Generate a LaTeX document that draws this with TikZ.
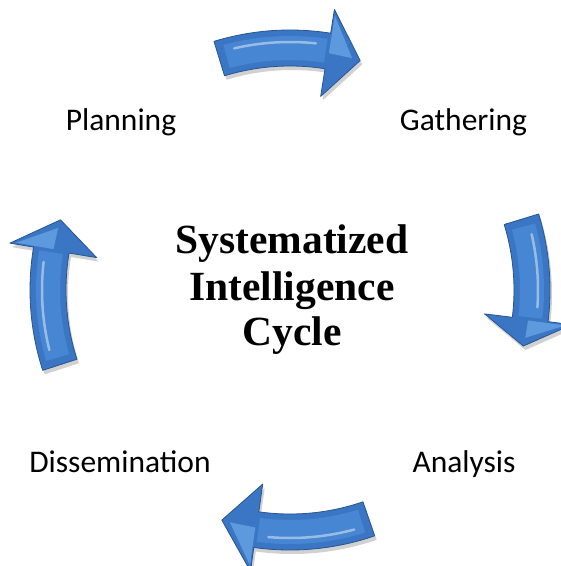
\documentclass[tikz,border=0pt]{standalone}
\usepackage{fontspec}
\setmainfont{Liberation Serif}
\newfontfamily\labelfont{Carlito}
\definecolor{arrowbody}{HTML}{3A76C4}
\definecolor{arrowedge}{HTML}{29558F}
\definecolor{arrowinset}{HTML}{4686D2}
\definecolor{arrowfacet}{HTML}{5C99DD}
\tikzset{
  lbl/.style={font=\labelfont\fontsize{31.5}{36}\selectfont, anchor=base, inner sep=0pt},
  ttl/.style={font=\fontsize{41.5}{46}\selectfont\bfseries, anchor=base, inner sep=0pt},
  shadowfill/.style={fill=black, opacity=0.18},
  bodyfill/.style={fill=arrowbody, draw=arrowedge, line width=0.8pt, line join=round},
  insetfill/.style={fill=arrowinset},
  facetfill/.style={fill=arrowfacet},
  gloss/.style={draw=white, opacity=0.45, line width=2.5pt, line cap=round}
}
\newcommand\cycarrow[3]{%
  \fill[shadowfill, shift={(2,-4)}] (#1:260) arc[start angle=#1, end angle=#2, radius=260]
     -- (#2:284) -- (#3:240) -- (#2:196) -- (#2:224)
     arc[start angle=#2, end angle=#1, radius=224] -- cycle;
  \path[bodyfill] (#1:260) arc[start angle=#1, end angle=#2, radius=260]
     -- (#2:284) -- (#3:240) -- (#2:196) -- (#2:224)
     arc[start angle=#2, end angle=#1, radius=224] -- cycle;
  \fill[insetfill] ({#1-1.8}:254) arc[start angle={#1-1.8}, end angle={#2+0.5}, radius=254]
     -- ({#2+0.5}:230) arc[start angle={#2+0.5}, end angle={#1-1.8}, radius=230] -- cycle;
  \fill[facetfill] ({#2-0.3}:278) -- ({#3+2}:240) -- ({#2-0.3}:240) -- cycle;
  \draw[gloss] ({#1-4}:248) arc[start angle={#1-4}, end angle={#2+3}, radius=248];
}
\begin{document}
\begin{tikzpicture}[x=1pt,y=1pt]
\useasboundingbox (0,0) rectangle (561,-566);
\begin{scope}[shift={(290,-290)}]
  \cycarrow{107}{81}{73}
  \cycarrow{17}{-7}{-13.5}
  \cycarrow{-71}{-98}{-106.5}
  \cycarrow{-162}{-189.5}{-197}
\end{scope}
\node[lbl] (planning) at (121,-130) {Planning};
\node[lbl] (gathering) at (463.5,-130) {Gathering};
\node[lbl] (analysis) at (464,-472) {Analysis};
\node[lbl] (dissemination) at (120,-472) {Dissemination};
\node[ttl] (title1) at (292,-253) {Systematized};
\node[ttl] (title2) at (292,-300) {Intelligence};
\node[ttl] (title3) at (292,-345) {Cycle};
\end{tikzpicture}
\end{document}
